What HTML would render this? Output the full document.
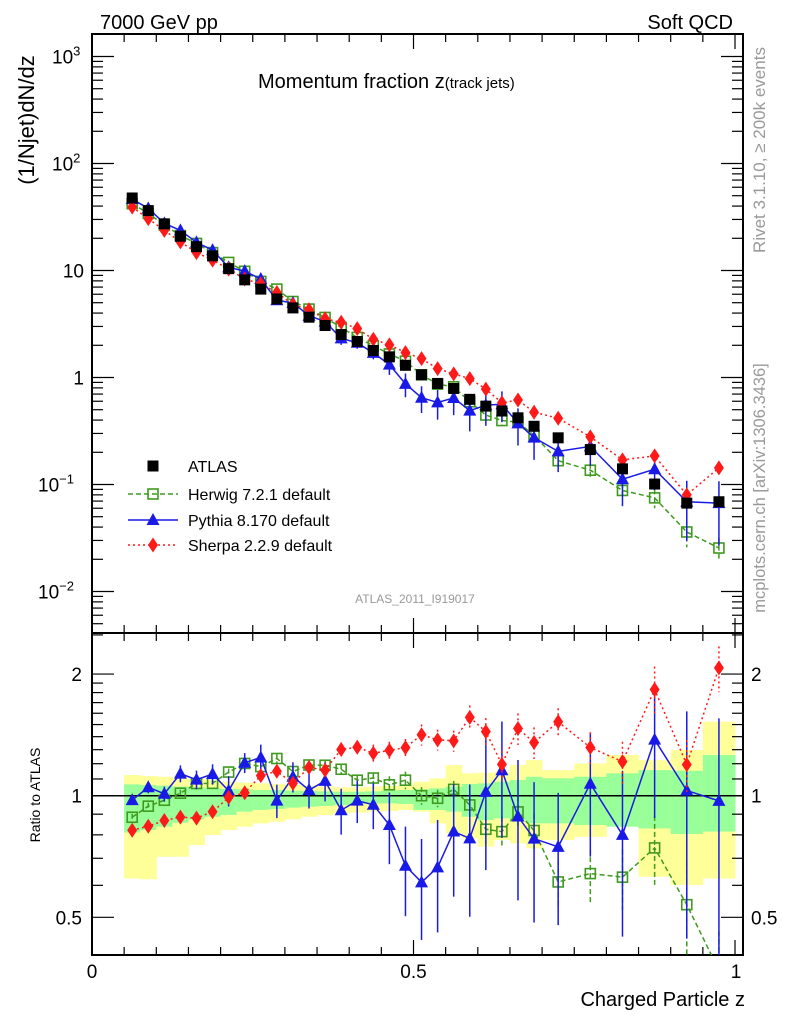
<!DOCTYPE html>
<html><head><meta charset="utf-8"><style>
html,body{margin:0;padding:0;background:#fff;}
svg{display:block;font-family:"Liberation Sans",Arial,sans-serif;}
</style></head><body>
<svg id="chart" width="786" height="1024" viewBox="0 0 786 1024" xmlns="http://www.w3.org/2000/svg">
<defs>
<clipPath id="clipMain"><rect x="92" y="34" width="651" height="599"/></clipPath>
<clipPath id="clipRatio"><rect x="92" y="633" width="651" height="322"/></clipPath>
</defs>
<text x="100" y="29" font-size="20">7000 GeV pp</text>
<text x="733" y="29" font-size="20" text-anchor="end">Soft QCD</text>
<text x="258" y="88" font-size="20">Momentum fraction z<tspan font-size="15">(track jets)</tspan></text>
<text transform="translate(34,120) rotate(-90)" font-size="22" text-anchor="middle">(1/Njet)dN/dz</text>
<text transform="translate(765,150) rotate(-90)" font-size="17" fill="#999" text-anchor="middle">Rivet 3.1.10, ≥ 200k events</text>
<text transform="translate(765,488) rotate(-90)" font-size="16.5" fill="#999" text-anchor="middle">mcplots.cern.ch [arXiv:1306.3436]</text>
<text x="415" y="603" font-size="12" fill="#999" text-anchor="middle">ATLAS_2011_I919017</text>
<text transform="translate(40,795) rotate(-90)" font-size="14" text-anchor="middle">Ratio to ATLAS</text>
<text x="745" y="1006" font-size="20" text-anchor="end">Charged Particle z</text>
<g id="bands" clip-path="url(#clipRatio)"></g>
<g id="axes"></g>
<g id="mainMarks" clip-path="url(#clipMain)"></g>
<g id="ratioMarks" clip-path="url(#clipRatio)"></g>
<g id="legend"></g>
</svg>
<script>
const zCenters=[0.0625,0.0875,0.1125,0.1375,0.1625,0.1875,0.2125,0.2375,0.2625,0.2875,0.3125,0.3375,0.3625,0.3875,0.4125,0.4375,0.4625,0.4875,0.5125,0.5375,0.5625,0.5875,0.6125,0.6375,0.6625,0.6875,0.725,0.775,0.825,0.875,0.925,0.975];
const binEdges=[0.05,0.075,0.1,0.125,0.15,0.175,0.2,0.225,0.25,0.275,0.3,0.325,0.35,0.375,0.4,0.425,0.45,0.475,0.5,0.525,0.55,0.575,0.6,0.625,0.65,0.675,0.7,0.75,0.8,0.85,0.9,0.95,1.0];
const atlas=[47.6,36.3,27.3,20.9,16.7,13.7,10.4,8.18,6.7,5.42,4.47,3.66,3.06,2.52,2.17,1.79,1.56,1.30,1.06,0.88,0.79,0.625,0.54,0.486,0.42,0.35,0.273,0.212,0.14,0.101,0.067,0.069];
const herwig=[42.1,34.2,26.6,21.2,17.9,14.7,11.9,9.83,7.91,6.70,5.13,4.36,3.64,2.93,2.37,1.98,1.66,1.42,1.06,0.867,0.819,0.593,0.446,0.396,0.383,0.287,0.167,0.136,0.088,0.075,0.036,0.0255];
const pythia=[46.4,38.1,27.6,23.7,18.3,15.5,10.7,9.87,8.33,5.27,4.98,3.78,3.33,2.32,2.11,1.70,1.32,0.872,0.647,0.585,0.644,0.49,0.552,0.562,0.373,0.274,0.204,0.227,0.112,0.139,0.069,0.067];
const sherpa=[39.1,30.5,23.7,18.5,14.7,12.5,10.3,8.32,7.51,6.23,4.80,4.30,3.54,3.28,2.86,2.28,2.02,1.71,1.50,1.21,1.08,0.977,0.778,0.581,0.616,0.474,0.416,0.279,0.170,0.185,0.080,0.143];
const herwigErr=[0.02,0.02,0.02,0.02,0.02,0.02,0.02,0.02,0.03,0.03,0.03,0.03,0.03,0.03,0.03,0.03,0.05,0.05,0.05,0.05,0.05,0.05,0.08,0.09,0.09,0.1,0.13,0.15,0.17,0.2,0.28,0.25];
const pythiaErr=[0.023,0.034,0.042,0.048,0.053,0.057,0.086,0.057,0.076,0.095,0.086,0.10,0.11,0.13,0.12,0.13,0.20,0.25,0.28,0.31,0.31,0.36,0.36,0.32,0.38,0.38,0.36,0.34,0.44,0.36,0.57,0.6];
const sherpaErr=[0.02,0.02,0.02,0.02,0.02,0.02,0.02,0.03,0.03,0.03,0.03,0.03,0.04,0.04,0.04,0.05,0.05,0.05,0.06,0.06,0.06,0.07,0.08,0.08,0.09,0.09,0.08,0.09,0.12,0.14,0.15,0.13];
const yellowUp=[1.125,1.118,1.114,1.104,1.100,1.093,1.083,1.077,1.073,1.069,1.063,1.057,1.053,1.049,1.049,1.053,1.057,1.063,1.083,1.104,1.191,1.136,1.140,1.147,1.191,1.225,1.157,1.202,1.261,1.225,1.297,1.525];
const yellowDn=[0.624,0.621,0.706,0.706,0.755,0.799,0.822,0.838,0.854,0.862,0.874,0.887,0.896,0.904,0.908,0.913,0.916,0.922,0.913,0.854,0.807,0.784,0.748,0.777,0.762,0.741,0.777,0.791,0.887,0.630,0.601,0.624];
const greenUp=[1.067,1.063,1.059,1.053,1.049,1.043,1.039,1.037,1.033,1.033,1.029,1.027,1.025,1.023,1.023,1.025,1.029,1.033,1.037,1.043,1.053,1.069,1.073,1.083,1.093,1.114,1.104,1.114,1.136,1.157,1.153,1.261];
const greenDn=[0.811,0.822,0.838,0.857,0.874,0.887,0.896,0.913,0.922,0.927,0.934,0.939,0.943,0.948,0.954,0.957,0.957,0.954,0.922,0.922,0.913,0.887,0.870,0.879,0.870,0.854,0.854,0.846,0.838,0.830,0.804,0.815];
const mainYTicks=[0.01,0.1,1,10,100,1000];
const mainYLabels=["10","10","1","10","10","10"];
const mainYExp=["−2","−1","","","2","3"];
const ratioTicks=[0.5,1,2];
const ratioLabels=["0.5","1","2"];
const xTicks=[0,0.5,1];
const xLabels=["0","0.5","1"];

const NS="http://www.w3.org/2000/svg";
const X0=92,X1=743,RT=633,RB=955,MT=34;
function xs(z){return 92+643*z;}
function ym(v){return 377.5-107*Math.log10(v);}
function yr(r){return 795.7-404*Math.log10(r);}
function mk(tag,attrs,parent){const e=document.createElementNS(NS,tag);for(const k in attrs)e.setAttribute(k,attrs[k]);parent.appendChild(e);return e;}
const axes=document.getElementById('axes');
const bands=document.getElementById('bands');
const mm=document.getElementById('mainMarks');
const rm=document.getElementById('ratioMarks');
const leg=document.getElementById('legend');

for(let i=0;i<zCenters.length;i++){
  const x=xs(binEdges[i]),w=xs(binEdges[i+1])-x;
  const y1=mk('rect',{x:x,y:yr(yellowUp[i]),width:w+0.5,height:yr(yellowDn[i])-yr(yellowUp[i]),fill:'#ffff99'},bands);
  
  
  const g1=mk('rect',{x:x,y:yr(greenUp[i]),width:w+0.5,height:yr(greenDn[i])-yr(greenUp[i]),fill:'#99ff99'},bands);
  
  
}
const one=mk('line',{x1:X0,x2:X1,y1:yr(1),y2:yr(1),stroke:'#000','stroke-width':1.5},bands);



const f1=mk('rect',{x:X0,y:MT,width:X1-X0,height:RT-MT,fill:'none',stroke:'#000','stroke-width':2},axes);


const f2=mk('rect',{x:X0,y:RT,width:X1-X0,height:RB-RT,fill:'none',stroke:'#000','stroke-width':2},axes);



for(let k=0;k<=20;k++){
  const z=k*0.05,x=xs(z),major=(k%10===0),L=major?15:8;
  [[MT,1],[RT,-1],[RT,1],[RB,-1]].forEach(([y,d])=>{
    const t=mk('line',{x1:x,x2:x,y1:y,y2:y+d*L,stroke:'#000','stroke-width':1.2},axes);
    
    
  });
}
xTicks.forEach((z,i)=>{
  const t=mk('text',{x:xs(z)+(i==2?1:0),y:978,'font-size':19,'text-anchor':'middle'},axes);
  t.textContent=xLabels[i];
  
  
});
for(let d=-3;d<=3;d++){
  for(let m=1;m<10;m++){
    const v=m*Math.pow(10,d),y=ym(v);
    if(y<MT||y>RT)continue;
    const L=m===1?22:11;
    [[X0,1],[X1,-1]].forEach(([x,s])=>{
      const t=mk('line',{x1:x,x2:x+s*L,y1:y,y2:y,stroke:'#000','stroke-width':1.2},axes);
      
      
    });
  }
}
mainYTicks.forEach((v,i)=>{
  const y=ym(v)+7;
  const t=mk('text',{x:84,y:y,'font-size':19,'text-anchor':'end'},axes);
  t.textContent=mainYLabels[i];
  if(mainYExp[i]){
    const s=mk('tspan',{dy:-8,'font-size':13},t);s.textContent=mainYExp[i];
    t.setAttribute('text-anchor','start');
    t.setAttribute('x',mainYExp[i].length>1?38:52);
  }
  
  
});
[0.4,0.5,0.6,0.7,0.8,0.9,1,1.1,1.2,1.3,1.4,1.5,1.6,1.7,1.8,1.9,2,2.5].forEach(r=>{
  const y=yr(r);if(y<RT||y>RB)return;
  const L=(r===0.5||r===1||r===2)?22:11;
  [[X0,1],[X1,-1]].forEach(([x,s])=>{
    const t=mk('line',{x1:x,x2:x+s*L,y1:y,y2:y,stroke:'#000','stroke-width':1.2},axes);
    
    
  });
});
ratioTicks.forEach((r,i)=>{
  const y=yr(r)+7;
  const a=mk('text',{x:82,y:y,'font-size':19,'text-anchor':'end'},axes);a.textContent=ratioLabels[i];
  
  
  const b=mk('text',{x:751,y:y,'font-size':19},axes);b.textContent=ratioLabels[i];
  
  
});

function marker(kind,x,y,color,parent){
  let e;
  if(kind==='sq')e=mk('rect',{x:x-5.5,y:y-5.5,width:11,height:11,fill:'#000'},parent);
  else if(kind==='osq')e=mk('rect',{x:x-5,y:y-5,width:10,height:10,fill:'none',stroke:color,'stroke-width':1.6},parent);
  else if(kind==='tri')e=mk('polygon',{points:`${x},${y-7} ${x-6.5},${y+5} ${x+6.5},${y+5}`,fill:color},parent);
  else e=mk('polygon',{points:`${x},${y-7.5} ${x-5},${y} ${x},${y+7.5} ${x+5},${y}`,fill:color},parent);
  return e;
}
function series(vals,errs,kind,color,dash,name,ratio,parent,yf){
  const pts=[];
  vals.forEach((v,i)=>{const val=ratio?v/atlas[i]:v;pts.push([xs(zCenters[i]),yf(val),val]);});
  const line=mk('polyline',{points:pts.map(p=>p[0]+','+p[1]).join(' '),fill:'none',stroke:color,'stroke-width':1.5,'stroke-dasharray':dash},parent);
  
  
  pts.forEach((p,i)=>{
    const e=errs[i];
    const eb=mk('line',{x1:p[0],x2:p[0],y1:yf(p[2]*(1+e)),y2:yf(p[2]*(1-e)),stroke:color,'stroke-width':1.5,'stroke-dasharray':dash},parent);
    
    
    const m=marker(kind,p[0],p[1],color,parent);
    
    
  });
}
series(herwig,herwigErr,'osq','#3f9a1f','5,3','herwig',false,mm,ym);
series(pythia,pythiaErr,'tri','#1a1ae6','','pythia',false,mm,ym);
series(sherpa,sherpaErr,'dia','#ff1a1a','2,3','sherpa',false,mm,ym);
atlas.forEach((v,i)=>{
  const m=marker('sq',xs(zCenters[i]),ym(v),'#000',mm);
  
  
});
series(herwig,herwigErr,'osq','#3f9a1f','5,3','herwig-ratio',true,rm,yr);
series(pythia,pythiaErr,'tri','#1a1ae6','','pythia-ratio',true,rm,yr);
series(sherpa,sherpaErr,'dia','#ff1a1a','2,3','sherpa-ratio',true,rm,yr);

const legItems=[['sq','#000','','ATLAS','legend-atlas'],['osq','#3f9a1f','5,3','Herwig 7.2.1 default','legend-herwig'],['tri','#1a1ae6','','Pythia 8.170 default','legend-pythia'],['dia','#ff1a1a','2,3','Sherpa 2.2.9 default','legend-sherpa']];
const legY=[466,494,520,545];
legItems.forEach((it,i)=>{
  const g=mk('g',{},leg);
  
  
  if(i>0)mk('line',{x1:128,x2:178,y1:legY[i],y2:legY[i],stroke:it[1],'stroke-width':1.5,'stroke-dasharray':it[2]},g);
  marker(it[0],153,legY[i],it[1],g);
  const t=mk('text',{x:188,y:legY[i]+6,'font-size':16},g);t.textContent=it[3];
});
</script>
</body></html>
